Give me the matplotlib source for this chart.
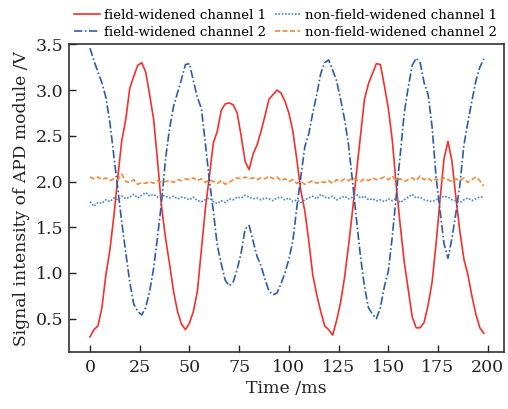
import numpy as np
import matplotlib
matplotlib.use("Agg")
import matplotlib.pyplot as plt

# time axis (ms)
time_ms = list(range(0, 200, 2))

fw_ch1 = [0.30, 0.38, 0.42, 0.62, 0.98, 1.25, 1.62, 2.05, 2.45, 2.68,
          3.02, 3.15, 3.27, 3.30, 3.20, 2.95, 2.68, 2.22, 1.72, 1.38,
          1.10, 0.80, 0.58, 0.44, 0.38, 0.45, 0.58, 0.80, 1.25, 1.70,
          2.05, 2.42, 2.55, 2.78, 2.85, 2.86, 2.84, 2.75, 2.50, 2.22,
          2.13, 2.30, 2.40, 2.55, 2.72, 2.90, 2.95, 3.00, 2.97, 2.88,
          2.75, 2.55, 2.24, 1.90, 1.68, 1.35, 0.98, 0.76, 0.58, 0.42,
          0.38, 0.32, 0.48, 0.68, 0.95, 1.30, 1.68, 2.10, 2.50, 2.90,
          3.07, 3.18, 3.29, 3.28, 3.05, 2.80, 2.45, 1.95, 1.52, 1.12,
          0.82, 0.52, 0.40, 0.40, 0.46, 0.65, 0.90, 1.32, 1.80, 2.25,
          2.44, 2.22, 1.82, 1.45, 1.15, 0.98, 0.75, 0.55, 0.40, 0.34]

fw_ch2 = [3.46, 3.32, 3.20, 3.08, 2.92, 2.65, 2.28, 1.92, 1.55, 1.22,
          0.90, 0.66, 0.58, 0.54, 0.62, 0.80, 1.05, 1.40, 1.78, 2.25,
          2.58, 2.82, 2.97, 3.12, 3.28, 3.29, 3.10, 2.92, 2.80, 2.42,
          2.02, 1.68, 1.30, 1.10, 0.92, 0.86, 0.90, 1.04, 1.22, 1.48,
          1.52, 1.35, 1.18, 1.08, 0.93, 0.80, 0.76, 0.78, 0.88, 1.00,
          1.15, 1.35, 1.72, 2.05, 2.38, 2.52, 2.75, 2.95, 3.18, 3.30,
          3.33, 3.22, 3.10, 2.90, 2.68, 2.40, 2.00, 1.58, 1.18, 0.85,
          0.62, 0.55, 0.50, 0.62, 0.85, 1.02, 1.40, 1.85, 2.30, 2.75,
          3.03, 3.27, 3.35, 3.30, 3.08, 2.95, 2.60, 2.05, 1.68, 1.32,
          1.16, 1.38, 1.66, 1.97, 2.40, 2.65, 2.88, 3.10, 3.25, 3.34]

nfw_ch1 = [1.78, 1.73, 1.77, 1.76, 1.80, 1.78, 1.82, 1.80, 1.84, 1.81,
           1.83, 1.86, 1.82, 1.85, 1.88, 1.84, 1.86, 1.83, 1.85, 1.84,
           1.82, 1.84, 1.81, 1.83, 1.82, 1.80, 1.83, 1.79, 1.78, 1.80,
           1.82, 1.78, 1.76, 1.79, 1.77, 1.81, 1.80, 1.83, 1.82, 1.85,
           1.83, 1.81, 1.82, 1.80, 1.82, 1.81, 1.79, 1.82, 1.83, 1.80,
           1.82, 1.78, 1.80, 1.77, 1.80, 1.82, 1.84, 1.81, 1.86, 1.83,
           1.82, 1.84, 1.80, 1.82, 1.84, 1.81, 1.83, 1.86, 1.82, 1.84,
           1.80, 1.81, 1.79, 1.80, 1.78, 1.81, 1.79, 1.82, 1.77, 1.80,
           1.83, 1.86, 1.82, 1.83, 1.80, 1.79, 1.78, 1.80, 1.82, 1.84,
           1.83, 1.80, 1.79, 1.77, 1.80, 1.82, 1.79, 1.81, 1.83, 1.83]

nfw_ch2 = [2.05, 2.03, 2.05, 2.02, 2.04, 2.01, 2.03, 2.02, 2.08, 2.00,
           1.99, 2.02, 1.97, 1.99, 1.98, 2.00, 1.98, 2.01, 1.99, 2.00,
           2.01, 1.99, 2.02, 2.01, 2.03, 2.02, 2.04, 2.01, 2.03, 1.99,
           2.02, 2.00, 1.98, 2.01, 1.97, 1.99, 2.02, 2.04, 2.03, 2.05,
           2.03, 2.04, 2.02, 2.04, 2.03, 2.06, 2.03, 2.05, 2.01, 2.03,
           2.00, 2.02, 1.98, 2.00, 1.97, 1.99, 2.01, 1.98, 2.00, 1.99,
           2.01, 1.98, 2.02, 2.00, 2.03, 2.01, 2.04, 2.02, 2.00, 2.03,
           2.01, 2.04, 2.02, 2.03, 2.05, 2.02, 2.06, 2.01, 2.03, 2.00,
           2.02, 2.04, 2.01, 2.06, 2.02, 2.04, 2.00, 2.03, 2.01, 2.04,
           2.02, 2.00, 2.03, 2.01, 2.04, 1.99, 2.02, 2.05, 2.01, 1.95]

x_ticks = [0, 25, 50, 75, 100, 125, 150, 175, 200]
y_ticks = [0.5, 1.0, 1.5, 2.0, 2.5, 3.0, 3.5]

plt.rcParams['font.family'] = ['DejaVu Serif']
plt.rcParams['mathtext.fontset'] = 'dejavuserif'

fig = plt.figure(figsize=(5.08, 4.09), dpi=100)
ax = fig.add_axes([0.1364, 0.140, 0.8563, 0.7514])

l1, = ax.plot(time_ms, fw_ch1, color='#f5302a', lw=1.2, ls='-')
l2, = ax.plot(time_ms, fw_ch2, color='#2d5bab', lw=1.2, ls=(0, (5, 1.5, 1, 1.5)))
l3, = ax.plot(time_ms, nfw_ch1, color='#4a86c5', lw=1.2, ls=(0, (1, 1)))
l4, = ax.plot(time_ms, nfw_ch2, color='#f4883a', lw=1.2, ls=(0, (3, 1.5)))

ax.set_xlim(-10.4, 208.3)
ax.set_ylim(0.138, 3.5)
ax.set_xticks(x_ticks)
ax.set_yticks(y_ticks)
ax.set_yticklabels([f"{v:.1f}" for v in y_ticks])
ax.tick_params(direction='in', length=5, width=1.0, labelsize=12.5, pad=5,
               top=False, right=False, colors='#222222', labelcolor='#222222')
ax.tick_params(axis='y', pad=4)
for s in ax.spines.values():
    s.set_linewidth(1.2)
    s.set_color('#333333')

ax.set_xlabel('Time /ms', fontsize=12.5, color='#222222', labelpad=3)
ax.set_ylabel('Signal intensity of APD module /V', fontsize=12.3, color='#222222', labelpad=4)

fig.legend([l1, l2, l3, l4],
           ['field-widened channel 1', 'field-widened channel 2',
            'non-field-widened channel 1', 'non-field-widened channel 2'],
           ncol=2, loc='upper left', bbox_to_anchor=(0.141, 0.985), frameon=False,
           fontsize=9.6, handlelength=1.9, handletextpad=0.35, columnspacing=0.6,
           labelspacing=0.3, borderaxespad=0.0, borderpad=0.2)

fig.savefig('out.png', dpi=100)
